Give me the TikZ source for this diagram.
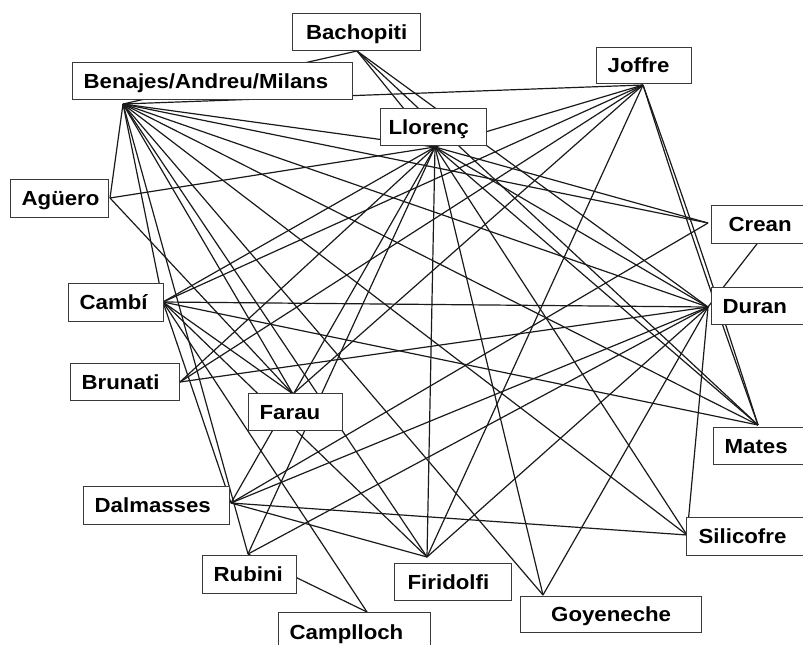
\documentclass[tikz,border=0pt]{standalone}
\usepackage{fontspec}
\setmainfont{Liberation Sans}[FakeStretch=1.09]
\definecolor{linec}{HTML}{1A1A1A}
\definecolor{boxc}{HTML}{3A3A3A}
\tikzset{
  edge/.style={draw=linec, line width=1.2pt},
  pbox/.style={draw=boxc, fill=white, line width=1.3pt, anchor=north west,
    inner ysep=0pt, text height=14.6pt, text depth=0pt,
    font=\fontsize{20.4}{22}\selectfont\bfseries},
}
\newcommand{\pnode}[8]{% name, x, y, W, H, pad, align, text
  \node[pbox, minimum width=#4pt, minimum height=#5pt, inner xsep=#6pt,
        text width={#4pt-2*#6pt}, align=#7] (#1) at (#2,#3) {#8};}
\begin{document}
\begin{tikzpicture}[x=1pt, y=-1pt]
\useasboundingbox (0,0) rectangle (803,645);
% anchor points of the people
\coordinate (BAa) at (357,51);
\coordinate (BEa) at (123,104);
\coordinate (Ja)  at (643,85);
\coordinate (La)  at (435,147);
\coordinate (Aa)  at (110,198);
\coordinate (CRa) at (708,223);
\coordinate (CRb) at (760,240);
\coordinate (CAa) at (163,302);
\coordinate (Da)  at (708,307);
\coordinate (BRa) at (180,382);
\coordinate (Fa)  at (293,394);
\coordinate (Ma)  at (758,425);
\coordinate (DAa) at (231,503);
\coordinate (Sa)  at (687,535);
\coordinate (Ra)  at (248,554);
\coordinate (FIa) at (427,557);
\coordinate (Ga)  at (543,595);
\coordinate (CPa) at (367,612);
% connectors
\draw[edge] (BAa) -- (BEa);
\draw[edge] (BAa) -- (La);
\draw[edge] (BAa) -- (Da);
\draw[edge] (BAa) -- (Ma);
\foreach \t in {Ja,La,Aa,CRa,Da,Ma,Sa,Ga,FIa,Fa,Ra,CAa}
  \draw[edge] (BEa) -- (\t);
\foreach \t in {La,CAa,BRa,Fa,FIa}
  \draw[edge] (Ja) -- (\t);
\draw[edge] (Ja) to[bend left=1] (Ma);
\draw[edge] (Ja) to[bend right=1] (Ma);
\foreach \t in {Aa,CRa,Da,Ma,Sa,Ga,FIa,DAa,Ra,CAa,BRa}
  \draw[edge] (La) -- (\t);
\draw[edge] (CRb) -- (Da);
\draw[edge] (CRa) -- (DAa);
\foreach \t in {CAa,BRa,DAa,Ra,Sa,Ga,FIa}
  \draw[edge] (Da) -- (\t);
\foreach \t in {Ma,DAa,CPa,Fa,FIa}
  \draw[edge] (CAa) -- (\t);
\draw[edge] (Aa) -- (Fa);
\draw[edge] (DAa) -- (Sa);
\draw[edge] (DAa) -- (FIa);
\draw[edge] (Ra) -- (CPa);
% boxes
\pnode{BA}{292}{13}{128}{37}{4}{center}{Bachopiti}
\pnode{BE}{72}{62}{280}{37}{11}{left}{Benajes/Andreu/Milans}
\pnode{J}{596}{47}{95}{36}{11}{left}{Joffre}
\pnode{L}{380}{108}{106}{37}{8}{left}{Llorenç}
\pnode{A}{10}{179}{98}{38}{11}{left}{Agüero}
\pnode{CR}{711}{205}{100}{38}{17}{left}{Crean}
\pnode{D}{711}{287}{100}{37}{11}{left}{Duran}
\pnode{CA}{68}{283}{95}{38}{11}{left}{Cambí}
\pnode{BR}{70}{363}{109}{37}{11}{left}{Brunati}
\pnode{F}{248}{393}{94}{37}{11}{left}{Farau}
\pnode{M}{713}{427}{100}{37}{11}{left}{Mates}
\pnode{DA}{83}{486}{146}{38}{11}{left}{Dalmasses}
\pnode{S}{686}{517}{120}{38}{12}{left}{Silicofre}
\pnode{R}{202}{555}{94}{38}{11}{left}{Rubini}
\pnode{FI}{394}{563}{117}{37}{13}{left}{Firidolfi}
\pnode{G}{520}{596}{181}{36}{4}{center}{Goyeneche}
\pnode{CP}{278}{612}{152}{40}{11}{left}{Camplloch}
\end{tikzpicture}
\end{document}
